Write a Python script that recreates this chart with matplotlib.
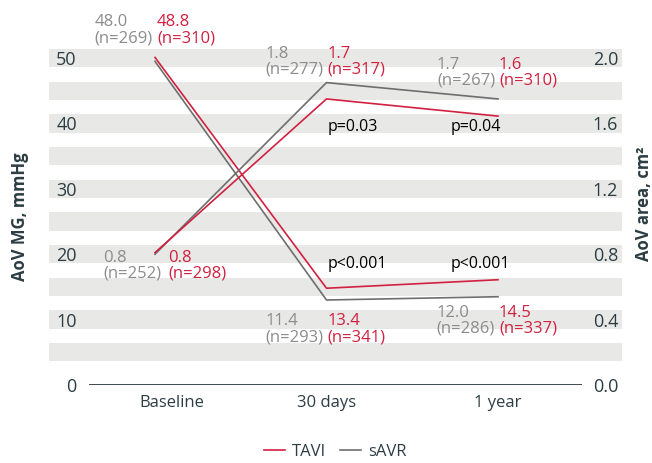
import matplotlib
matplotlib.use("Agg")
import matplotlib.pyplot as plt
from matplotlib.lines import Line2D

plt.rcParams["font.family"] = ["Open Sans", "DejaVu Sans"]

# data
categories = ["Baseline", "30 days", "1 year"]
mg_tavi = [50.1, 14.8, 16.1]        # AoV mean gradient, mmHg (as drawn)
mg_savr = [49.5, 13.0, 13.5]
area_tavi = [0.81, 1.75, 1.645]     # AoV area, cm2 (as drawn)
area_savr = [0.80, 1.85, 1.75]

mg_tavi_lbl = ["48.8\n(n=310)", "13.4\n(n=341)", "14.5\n(n=337)"]
mg_savr_lbl = ["48.0\n(n=269)", "11.4\n(n=293)", "12.0\n(n=286)"]
area_tavi_lbl = ["0.8\n(n=298)", "1.7\n(n=317)", "1.6\n(n=310)"]
area_savr_lbl = ["0.8\n(n=252)", "1.8\n(n=277)", "1.7\n(n=267)"]
p_area = ["p=0.03", "p=0.04"]
p_mg = ["p<0.001", "p<0.001"]

left_ticks = [0, 10, 20, 30, 40, 50]
right_ticks = [0.0, 0.4, 0.8, 1.2, 1.6, 2.0]

RED = "#d2203f"
GREY_LINE = "#6e6e6e"
GREY_TXT = "#8c8c8c"
DARK = "#2c3d44"
BAND = "#e8e9e7"
PX = 0.72  # points per pixel at dpi 100

fig = plt.figure(figsize=(6.52, 4.63), dpi=100)
ax = fig.add_axes([49 / 652, 78 / 463, 573 / 652, 340 / 463])
ax.set_xlim(-0.618, 2.723)
ax.set_ylim(0, 52)

for v in range(5, 55, 5):
    ax.axhspan(v - 1.4, v + 1.4, color=BAND, lw=0, zorder=0)
ax.hlines(0, -0.385, 2.49, color=DARK, lw=1.3, zorder=2)

for s in ax.spines.values():
    s.set_visible(False)
ax.set_yticks(left_ticks)
ax.tick_params(axis="y", length=0, pad=-20, labelsize=13, labelcolor=DARK)
ax.set_xticks([0.1, 1, 2])
ax.set_xticklabels(categories)
ax.tick_params(axis="x", length=0, pad=7, labelsize=12, labelcolor=DARK)

ax2 = ax.twinx()
ax2.set_ylim(0, 52 / 25)
for s in ax2.spines.values():
    s.set_visible(False)
ax2.set_yticks(right_ticks)
ax2.set_yticklabels([f"{t:.1f}" for t in right_ticks])
ax2.tick_params(axis="y", length=0, pad=-21, labelsize=13, labelcolor=DARK)

x = [0, 1, 2]
ax.plot(x, mg_savr, color=GREY_LINE, lw=1.2, zorder=3)
ax.plot(x, mg_tavi, color=RED, lw=1.2, zorder=4)
ax2.plot(x, area_savr, color=GREY_LINE, lw=1.2, zorder=3)
ax2.plot(x, area_tavi, color=RED, lw=1.2, zorder=4)


def lab(a, xy, text, dx, dy, color, ha, va, size=12):
    a.annotate(text, xy=xy, xytext=(dx * PX, dy * PX), textcoords="offset points",
               ha=ha, va=va, color=color, fontsize=size, linespacing=1.0,
               multialignment="left")


# mean gradient labels
lab(ax, (0, mg_tavi[0]), mg_savr_lbl[0], -2, 11, GREY_TXT, "right", "bottom")
lab(ax, (0, mg_tavi[0]), mg_tavi_lbl[0], 2, 11, RED, "left", "bottom")
for i, dy in [(1, -13), (2, -8)]:
    lab(ax, (i, mg_savr[i]), mg_savr_lbl[i], -3, dy, GREY_TXT, "right", "top")
    lab(ax, (i, mg_savr[i]), mg_tavi_lbl[i], 1, dy, RED, "left", "top")

# area labels
lab(ax2, (0, area_tavi[0]), area_savr_lbl[0], 6, 3, GREY_TXT, "right", "top")
lab(ax2, (0, area_tavi[0]), area_tavi_lbl[0], 13, 3, RED, "left", "top")
for i, dy in [(1, 5), (2, 10)]:
    lab(ax2, (i, area_savr[i]), area_savr_lbl[i], -3, dy, GREY_TXT, "right", "bottom")
    lab(ax2, (i, area_savr[i]), area_tavi_lbl[i], 1, dy, RED, "left", "bottom")

# p-values
lab(ax2, (1, area_tavi[1]), p_area[0], 1, -20, "black", "left", "top", 11.5)
lab(ax2, (2, area_tavi[2]), p_area[1], -47, -3, "black", "left", "top", 11.5)
lab(ax, (1, mg_tavi[1]), p_mg[0], 1, 16, "black", "left", "bottom", 11.5)
lab(ax, (2, mg_tavi[2]), p_mg[1], -47, 8, "black", "left", "bottom", 11.5)

fig.text(20 / 652, 1 - 217 / 463, "AoV MG, mmHg", rotation=90, ha="center", va="center",
         fontsize=12, fontweight="bold", color=DARK)
fig.text(644 / 652, 1 - 204 / 463, "AoV area, cm²", rotation=90, ha="center", va="center",
         fontsize=12, fontweight="bold", color=DARK)

handles = [Line2D([], [], color=RED, lw=1.2), Line2D([], [], color=GREY_LINE, lw=1.2)]
fig.legend(handles, ["TAVI", "sAVR"], loc="center", bbox_to_anchor=(0.514, 0.024),
           ncol=2, frameon=False, fontsize=12, handlelength=1.3, handletextpad=0.4,
           columnspacing=0.8, labelcolor=DARK, borderpad=0.1)

fig.savefig("out.png", dpi=100)
